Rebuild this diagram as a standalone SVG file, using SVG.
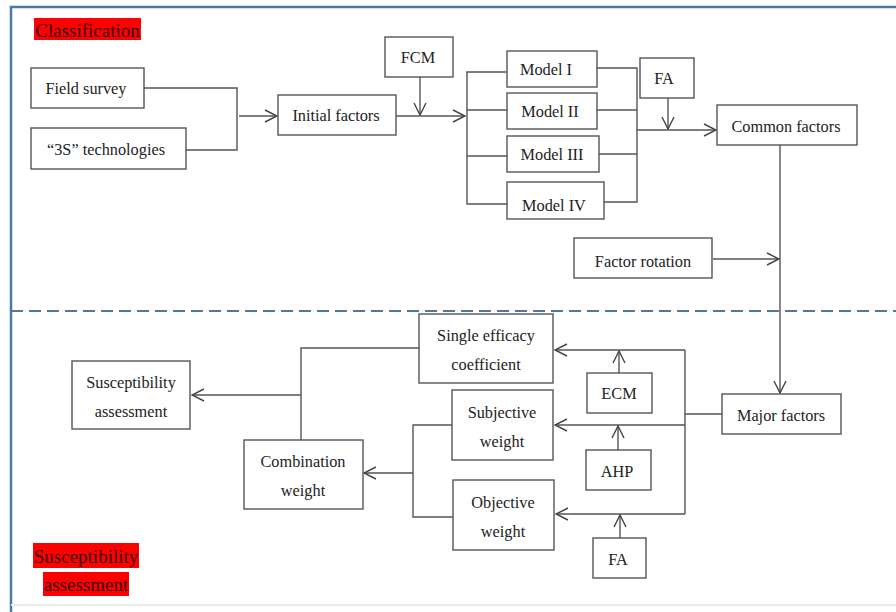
<svg xmlns="http://www.w3.org/2000/svg" width="896" height="612" viewBox="0 0 896 612">
<defs>
<marker id="ah" markerUnits="userSpaceOnUse" markerWidth="14" markerHeight="14" viewBox="0 0 14 14" refX="13" refY="7" orient="auto">
<path d="M1,1 L13,7 L1,13" fill="none" stroke="#444" stroke-width="1.4"/>
</marker>
<style>
.b{fill:#fff;stroke:#555;stroke-width:1.4}
.t{font-family:"Liberation Serif","Times New Roman",serif;font-size:16.3px;fill:#222;text-anchor:middle}
.c{fill:none;stroke:#555;stroke-width:1.4}
.lbl{font-family:"Liberation Serif","Times New Roman",serif;font-size:19px;fill:#300}
</style>
</defs>
<rect x="0" y="0" width="896" height="612" fill="#fff"/>
<g id="frame">
<path d="M11,612 L11,7 L896,7" fill="none" stroke="#4a78a8" stroke-width="2.5"/>
<line x1="11" y1="605" x2="896" y2="605" stroke="#e6eeea" stroke-width="2"/>
<line x1="11" y1="311" x2="896" y2="311" stroke="#4a78a8" stroke-width="2" stroke-dasharray="12,6"/>
</g>
<g id="label-classification">
<rect x="34" y="18" width="107" height="22" fill="#ff0000"/>
<text class="lbl" x="87.5" y="37" text-anchor="middle">Classification</text>
</g>
<g id="label-susceptibility">
<rect x="33" y="543" width="106" height="25" fill="#ff0000"/>
<rect x="43" y="572" width="86" height="24" fill="#ff0000"/>
<text class="lbl" x="86" y="563" text-anchor="middle">Susceptibility</text>
<text class="lbl" x="86" y="591" text-anchor="middle">assessment</text>
</g>
<g id="connectors">
<path class="c" d="M144,88 H237 V150 H186"/>
<path class="c" d="M239,116 H277" marker-end="url(#ah)"/>
<path class="c" d="M420,77 V115" marker-end="url(#ah)"/>
<path class="c" d="M396,116 H465" marker-end="url(#ah)"/>
<path class="c" d="M507,72 H467 V204 H507 M467,110 H507 M467,156 H507"/>
<path class="c" d="M596,68 H637 V202 H604 M597,110 H637 M599,154 H637"/>
<path class="c" d="M637,130 H716" marker-end="url(#ah)"/>
<path class="c" d="M668,98 V129" marker-end="url(#ah)"/>
<path class="c" d="M780,145 V393" marker-end="url(#ah)"/>
<path class="c" d="M713,259 H779" marker-end="url(#ah)"/>
<path class="c" d="M722,414 H685"/>
<path class="c" d="M685,350 V514"/>
<path class="c" d="M685,350 H555" marker-end="url(#ah)"/>
<path class="c" d="M685,425 H555" marker-end="url(#ah)"/>
<path class="c" d="M685,514 H556" marker-end="url(#ah)"/>
<path class="c" d="M619,373 V351" marker-end="url(#ah)"/>
<path class="c" d="M618,450 V426" marker-end="url(#ah)"/>
<path class="c" d="M620,538 V515" marker-end="url(#ah)"/>
<path class="c" d="M452,425 H413 V517 H453"/>
<path class="c" d="M413,473 H364" marker-end="url(#ah)"/>
<path class="c" d="M301,440 V348 H419"/>
<path class="c" d="M301,395 H192" marker-end="url(#ah)"/>
</g>
<g id="field-survey"><rect class="b" x="31" y="68" width="113" height="40"/><text class="t" x="86" y="94">Field survey</text></g>
<g id="3s-tech"><rect class="b" x="31" y="128" width="155" height="41"/><text class="t" x="106" y="155">“3S” technologies</text></g>
<g id="initial-factors"><rect class="b" x="278" y="95" width="118" height="40"/><text class="t" x="336" y="121">Initial factors</text></g>
<g id="fcm"><rect class="b" x="385" y="37" width="68" height="40"/><text class="t" x="418" y="63">FCM</text></g>
<g id="model1"><rect class="b" x="507" y="51" width="90" height="36"/><text class="t" x="546" y="75">Model I</text></g>
<g id="model2"><rect class="b" x="507" y="93" width="90" height="36"/><text class="t" x="550" y="117">Model II</text></g>
<g id="model3"><rect class="b" x="507" y="136" width="92" height="36"/><text class="t" x="552" y="160">Model III</text></g>
<g id="model4"><rect class="b" x="507" y="182" width="97" height="37"/><text class="t" x="554" y="211">Model IV</text></g>
<g id="fa-top"><rect class="b" x="640" y="58" width="54" height="40"/><text class="t" x="664" y="84">FA</text></g>
<g id="common-factors"><rect class="b" x="717" y="105" width="140" height="40"/><text class="t" x="786" y="132">Common factors</text></g>
<g id="factor-rotation"><rect class="b" x="574" y="238" width="138" height="40"/><text class="t" x="643" y="267">Factor rotation</text></g>
<g id="major-factors"><rect class="b" x="722" y="394" width="119" height="40"/><text class="t" x="781" y="421">Major factors</text></g>
<g id="single-efficacy"><rect class="b" x="419" y="314" width="134" height="69"/><text class="t" x="486" y="341">Single efficacy</text><text class="t" x="486" y="370">coefficient</text></g>
<g id="ecm"><rect class="b" x="587" y="373" width="65" height="40"/><text class="t" x="619" y="399">ECM</text></g>
<g id="subjective-weight"><rect class="b" x="452" y="390" width="101" height="70"/><text class="t" x="502" y="418">Subjective</text><text class="t" x="502" y="447">weight</text></g>
<g id="ahp"><rect class="b" x="586" y="450" width="65" height="40"/><text class="t" x="617" y="477">AHP</text></g>
<g id="objective-weight"><rect class="b" x="453" y="480" width="101" height="70"/><text class="t" x="503" y="508">Objective</text><text class="t" x="503" y="537">weight</text></g>
<g id="fa-bottom"><rect class="b" x="593" y="538" width="53" height="40"/><text class="t" x="618" y="565">FA</text></g>
<g id="combination-weight"><rect class="b" x="244" y="440" width="119" height="69"/><text class="t" x="303" y="467">Combination</text><text class="t" x="303" y="496">weight</text></g>
<g id="susceptibility-assessment"><rect class="b" x="72" y="361" width="118" height="68"/><text class="t" x="131" y="388">Susceptibility</text><text class="t" x="131" y="417">assessment</text></g>
</svg>
